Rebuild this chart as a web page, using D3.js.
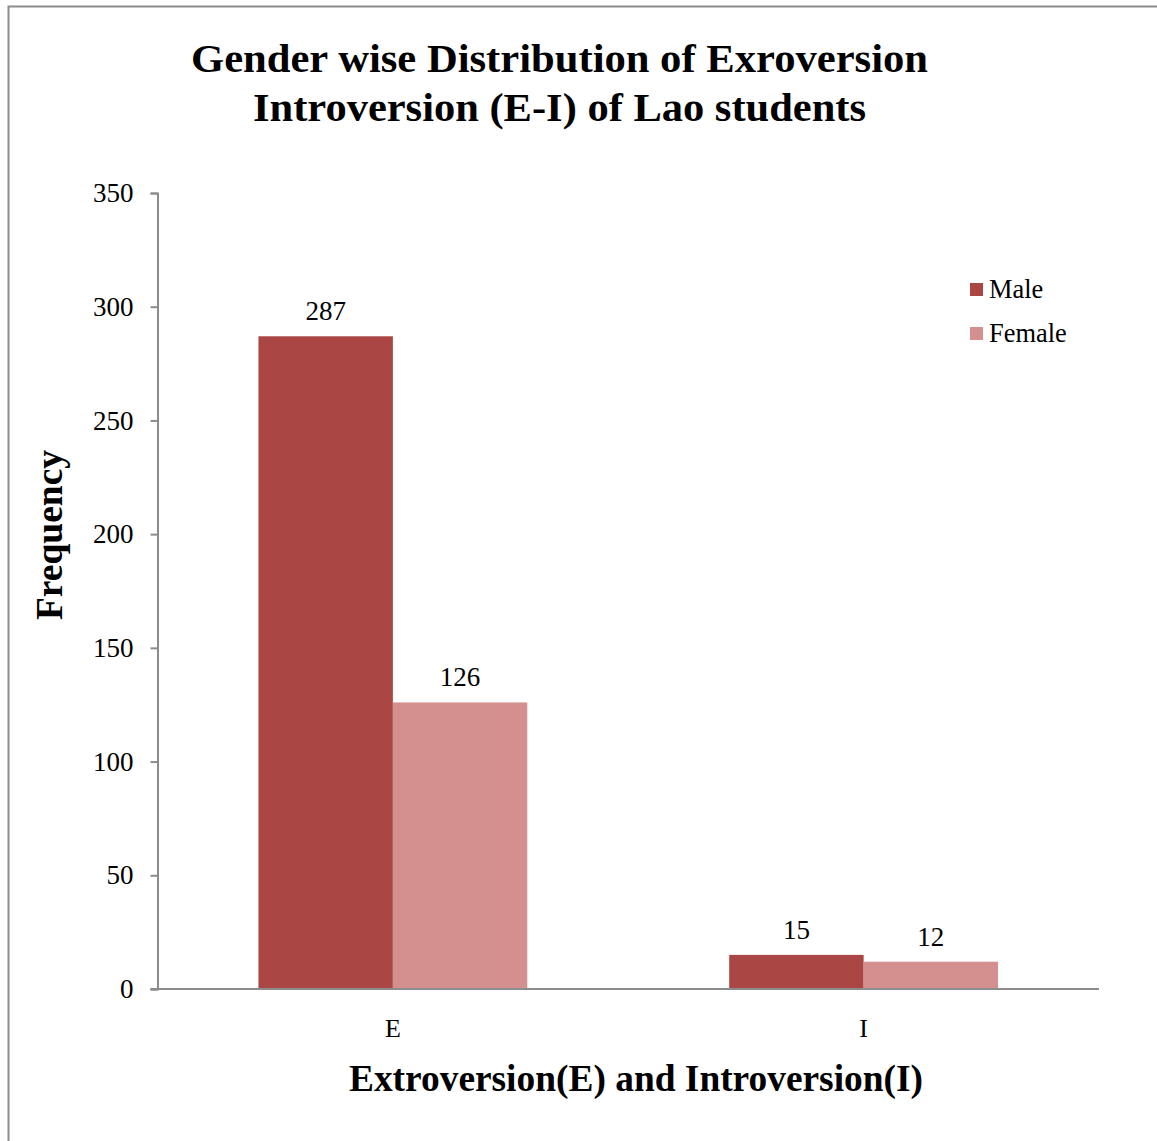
<!DOCTYPE html>
<html lang="en">
<head>
    <script src="https://unpkg.com/d3@7/dist/d3.min.js"></script>
    <style>
        body { margin: 0; background: #fff; }
        svg text { font-family: "Liberation Serif", "Times New Roman", serif; fill: #000; }
    </style>
</head>
<body>
    <div id="chart"></div>
    <script>
        // data
        const categories = ["E", "I"];
        const seriesNames = ["Male", "Female"];
        const maleValues = [287, 15];
        const femaleValues = [126, 12];
        const yTicks = [0, 50, 100, 150, 200, 250, 300, 350];
        const titleLines = ["Gender wise Distribution of Exroversion", "Introversion (E-I) of Lao students"];
        const colors = ["#AA4643", "#D3908F"];

        const width = 1157, height = 1141;
        const plot = { left: 157.5, right: 1099, top: 193, bottom: 989 };

        const svg = d3.select("#chart").append("svg")
            .attr("width", width)
            .attr("height", height);

        // outer chart border (right/bottom run off the picture)
        svg.append("rect")
            .attr("x", 8.5).attr("y", 6.5)
            .attr("width", 1200).attr("height", 1200)
            .attr("fill", "none")
            .attr("stroke", "#8c8c8c")
            .attr("stroke-width", 2);

        const x0 = d3.scaleBand().domain(categories).range([plot.left, plot.right]);
        const x1 = d3.scaleBand().domain(seriesNames)
            .range([0, x0.bandwidth()])
            .paddingInner(0)
            .paddingOuter(0.751);
        const y = d3.scaleLinear().domain([0, 350]).range([plot.bottom, plot.top]);

        const rows = categories.map((c, i) => ({
            cat: c,
            vals: [maleValues[i], femaleValues[i]]
        }));

        // bars
        const groups = svg.append("g").selectAll("g")
            .data(rows)
            .join("g")
            .attr("transform", d => `translate(${x0(d.cat)},0)`);

        groups.selectAll("rect")
            .data(d => d.vals.map((v, i) => ({ v, s: seriesNames[i], i })))
            .join("rect")
            .attr("x", d => x1(d.s))
            .attr("y", d => y(d.v))
            .attr("width", x1.bandwidth())
            .attr("height", d => y(0) - y(d.v))
            .attr("fill", d => colors[d.i]);

        groups.selectAll("text.val")
            .data(d => d.vals.map((v, i) => ({ v, s: seriesNames[i] })))
            .join("text")
            .attr("class", "val")
            .attr("x", d => x1(d.s) + x1.bandwidth() / 2)
            .attr("y", d => y(d.v) - 16)
            .attr("text-anchor", "middle")
            .style("font-size", "27px")
            .text(d => d.v);

        // y axis
        const yAxis = svg.append("g")
            .attr("transform", `translate(${plot.left},0)`)
            .call(d3.axisLeft(y).tickValues(yTicks).tickSize(7).tickPadding(17));
        yAxis.select(".domain").attr("stroke", "#8c8c8c").attr("stroke-width", 2);
        yAxis.selectAll(".tick line").attr("stroke", "#8c8c8c").attr("stroke-width", 2);
        yAxis.selectAll(".tick text")
            .style("font-size", "27px")
            .style("font-family", "Liberation Serif, serif")
            .attr("fill", "#000");

        // x axis
        const xAxis = svg.append("g")
            .attr("transform", `translate(0,${plot.bottom})`)
            .call(d3.axisBottom(x0).tickSize(0).tickPadding(30));
        xAxis.select(".domain").attr("stroke", "#8c8c8c").attr("stroke-width", 2)
            .attr("d", `M${plot.left - 7},0H${plot.right}`);
        xAxis.selectAll(".tick text")
            .style("font-size", "26px")
            .style("font-family", "Liberation Serif, serif")
            .attr("fill", "#000");

        // title
        const titleWidths = [737, 613];
        svg.append("g").selectAll("text")
            .data(titleLines)
            .join("text")
            .attr("x", 559.5)
            .attr("y", (d, i) => 72 + i * 49)
            .attr("text-anchor", "middle")
            .attr("textLength", (d, i) => titleWidths[i])
            .attr("lengthAdjust", "spacingAndGlyphs")
            .style("font-size", "40px")
            .style("font-weight", "bold")
            .text(d => d);

        // axis titles
        svg.append("text")
            .attr("transform", "translate(62,535) rotate(-90)")
            .attr("text-anchor", "middle")
            .style("font-size", "37.5px")
            .style("font-weight", "bold")
            .text("Frequency");

        svg.append("text")
            .attr("x", 636).attr("y", 1091)
            .attr("text-anchor", "middle")
            .style("font-size", "37.4px")
            .style("font-weight", "bold")
            .text("Extroversion(E) and Introversion(I)");

        // legend
        const legend = svg.append("g").selectAll("g")
            .data(seriesNames)
            .join("g")
            .attr("transform", (d, i) => `translate(970,${283 + i * 44})`);
        legend.append("rect")
            .attr("width", 13).attr("height", 13)
            .attr("fill", (d, i) => colors[i]);
        legend.append("text")
            .attr("x", 19).attr("y", 15)
            .style("font-size", "26.4px")
            .text(d => d);
    </script>
</body>
</html>
